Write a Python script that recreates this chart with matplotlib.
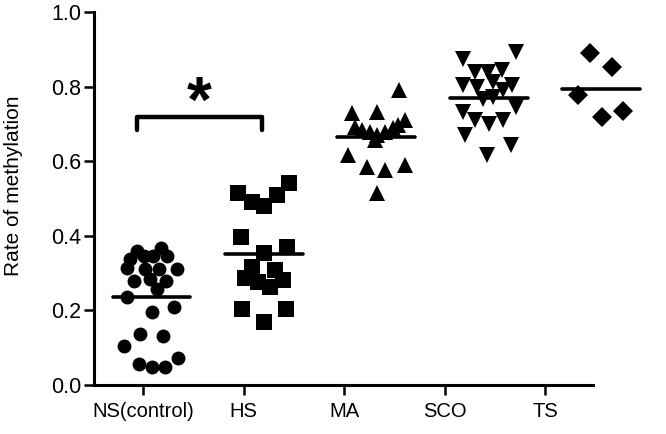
#!/usr/bin/env python3
# methylation_scatter.py - column scatter of methylation rate per group

import numpy as np
import matplotlib
matplotlib.use("Agg")
import matplotlib.pyplot as plt

plt.rcParams['font.family'] = ['Liberation Sans', 'DejaVu Sans']

groups = ['NS(control)', 'HS', 'MA', 'SCO', 'TS']
markers = ['o', 's', '^', 'v', 'D']
marker_sizes = [10.0, 11.2, 11.4, 11.4, 9.8]

# values, with the horizontal scatter of each point
ns_values = [0.055, 0.047, 0.047, 0.073, 0.105, 0.136, 0.132, 0.196, 0.210, 0.235,
             0.360, 0.368, 0.347, 0.315, 0.338, 0.310, 0.310, 0.310, 0.285, 0.280,
             0.347, 0.258, 0.347, 0.280]
ns_jitter = [-0.12, 0.00, 0.13, 0.26, -0.27, -0.11, 0.11, 0.00, 0.22, -0.24,
             -0.14, 0.09, 0.15, -0.24, -0.21, -0.07, 0.07, 0.25, -0.02, 0.14,
             0.01, 0.05, -0.08, -0.17]

hs_values = [0.515, 0.491, 0.480, 0.509, 0.542, 0.397, 0.354, 0.369, 0.317, 0.308,
             0.286, 0.277, 0.263, 0.281, 0.205, 0.170, 0.203]
hs_jitter = [-0.26, -0.12, 0.00, 0.13, 0.25, -0.23, 0.00, 0.23, -0.12, 0.11,
             -0.19, -0.06, 0.06, 0.19, -0.22, 0.00, 0.22]

ma_values = [0.790, 0.728, 0.732, 0.710, 0.692, 0.683, 0.679, 0.670, 0.679, 0.688,
             0.696, 0.656, 0.616, 0.585, 0.576, 0.589, 0.514]
ma_jitter = [0.23, -0.24, 0.01, 0.29, -0.21, -0.14, -0.06, 0.01, 0.09, 0.17,
             0.22, -0.01, -0.28, -0.09, 0.09, 0.29, 0.01]

sco_values = [0.875, 0.893, 0.839, 0.839, 0.844, 0.804, 0.799, 0.812, 0.804, 0.768,
              0.772, 0.732, 0.746, 0.710, 0.701, 0.710, 0.670, 0.643, 0.616, 0.790]
sco_jitter = [-0.26, 0.27, -0.14, -0.01, 0.13, -0.26, -0.12, 0.04, 0.23, -0.06,
              0.04, -0.26, 0.27, -0.14, 0.00, 0.14, -0.24, 0.22, -0.02, 0.14]

ts_values = [0.890, 0.853, 0.777, 0.719, 0.734]
ts_jitter = [-0.11, 0.11, -0.23, 0.01, 0.22]

all_values = [ns_values, hs_values, ma_values, sco_values, ts_values]
all_jitter = [ns_jitter, hs_jitter, ma_jitter, sco_jitter, ts_jitter]

yticks = [0.0, 0.2, 0.4, 0.6, 0.8, 1.0]
ytick_labels = ['0.0', '0.2', '0.4', '0.6', '0.8', '1.0']

# the point columns sit a bit off the tick marks in the original figure
group_pos = np.array([0.085, 1.204, 2.318, 3.443, 4.557])

fig = plt.figure(figsize=(6.66, 4.34), dpi=100)
ax = fig.add_axes([94 / 666, 49 / 434, 572 / 666, 373 / 434])

for i in range(len(groups)):
    vals = np.array(all_values[i])
    xs = group_pos[i] + np.array(all_jitter[i])
    ax.plot(xs, vals, linestyle='none', marker=markers[i], ms=marker_sizes[i],
            color='black', mec='black', mew=0, clip_on=False)
    m = vals.mean()
    ax.plot([group_pos[i] - 0.386, group_pos[i] + 0.386], [m, m], color='black',
            lw=2.6, solid_capstyle='round', clip_on=False)

# significance bracket between NS and HS
bx0 = group_pos[0] - 0.148
bx1 = group_pos[1] - 0.024
ax.plot([bx0, bx0, bx1, bx1], [0.683, 0.719, 0.719, 0.683], color='black',
        lw=3.2, solid_capstyle='round', solid_joinstyle='round', clip_on=False)
ax.text((bx0 + bx1) / 2, 0.705, '*', ha='center', va='baseline',
        fontsize=46, fontweight='bold', color='black')

ax.set_xlim(-0.4876, 5.204)
ax.set_ylim(0, 1.0)
ax.set_xticks(range(len(groups)))
ax.set_xticklabels(groups, fontsize=14.5)
ax.set_yticks(yticks)
ax.set_yticklabels(ytick_labels, fontsize=15.5)

for side in ['top', 'right']:
    ax.spines[side].set_visible(False)
for side in ['left', 'bottom']:
    ax.spines[side].set_linewidth(2.2)
ax.spines['bottom'].set_bounds(-0.4876, 4.478)
ax.tick_params(axis='both', direction='out', length=7, width=1.8, colors='black')
ax.tick_params(axis='y', pad=2)
ax.tick_params(axis='x', pad=5)

ax.set_ylabel('Rate of methylation', fontsize=15)
ax.yaxis.set_label_coords(-0.124, 0.533)

fig.savefig('out.png', dpi=100)
